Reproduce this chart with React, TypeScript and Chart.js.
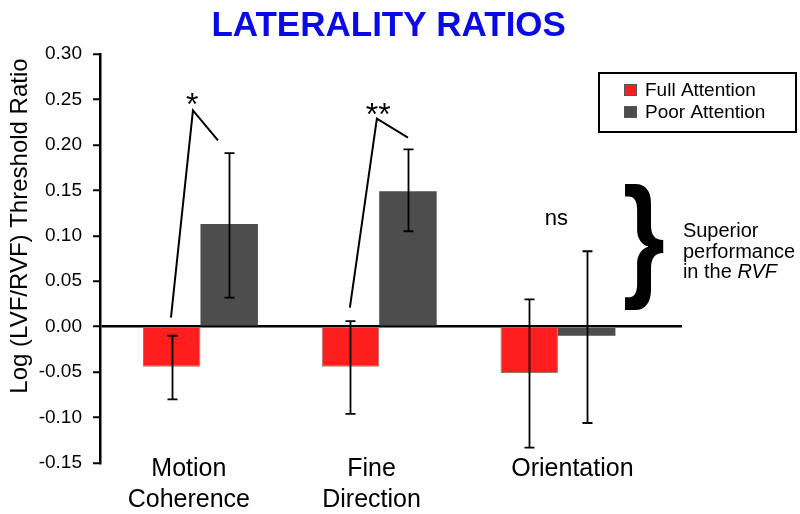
import React, { useEffect, useRef } from 'react';
import { Chart, registerables } from 'chart.js';

Chart.register(...registerables);

// ---------- data ----------
const categories: string[][] = [['Motion', 'Coherence'], ['Fine', 'Direction'], ['Orientation']];
const seriesNames = ['Full Attention', 'Poor Attention'];
const fullAttention = [-0.044, -0.044, -0.051];
const poorAttention = [0.113, 0.149, -0.01];
const fullErrLow = [-0.08, -0.096, -0.133];
const fullErrHigh = [-0.01, 0.006, 0.03];
const poorErrLow = [0.032, 0.105, -0.106];
const poorErrHigh = [0.191, 0.195, 0.083];
const yMin = -0.15;
const yMax = 0.3;
const yStep = 0.05;
const significanceMarks = ['*', '**', 'ns'];
const titleText = 'LATERALITY RATIOS';
const yTitleText = 'Log (LVF/RVF) Threshold Ratio';
const noteLines = ['Superior', 'performance', 'in the '];
const noteItalic = 'RVF';

// ---------- layout / style (data coordinates: category units, y values) ----------
const FONT = "'Liberation Sans', Arial, Helvetica, sans-serif";
const RED = '#ff1e1e';
const GRAY = '#4d4d4d';
const X_MIN = -0.562;
const X_MAX = 2.694;
const LABEL_SHIFT = [-0.065, -0.043, 0.081];
const SIG_LINES = [
  [[-0.165, 0.01], [-0.042, 0.238], [0.098, 0.205]],
  [[0.836, 0.021], [0.987, 0.229], [1.161, 0.208]],
];
const SIG_POS = [[-0.048, 0.25], [0.993, 0.24], [1.994, 0.118]];
const BRACE = { x0: 2.375, x1: 2.593, yTop: 0.158, yBottom: 0.018 };
const NOTE_POS = { x: 2.699, y: [0.1046, 0.0815, 0.0595] };

function inkText(ctx: CanvasRenderingContext2D, text: string, cx: number, cy: number) {
  ctx.textAlign = 'left';
  ctx.textBaseline = 'alphabetic';
  const m = ctx.measureText(text);
  const w = m.actualBoundingBoxLeft + m.actualBoundingBoxRight;
  const h = m.actualBoundingBoxAscent + m.actualBoundingBoxDescent;
  ctx.fillText(text, cx - w / 2 + m.actualBoundingBoxLeft, cy - h / 2 + m.actualBoundingBoxAscent);
}

const decorPlugin = {
  id: 'decor',
  afterDatasetsDraw(chart: any) {
    const ctx: CanvasRenderingContext2D = chart.ctx;
    const ys = chart.scales.y;
    const errs = [
      [fullErrLow, fullErrHigh],
      [poorErrLow, poorErrHigh],
    ];
    ctx.save();
    ctx.strokeStyle = '#000';
    ctx.lineWidth = 1.8;
    errs.forEach((pair, di) => {
      const meta = chart.getDatasetMeta(di);
      meta.data.forEach((bar: any, i: number) => {
        const x = Math.round(bar.x) + 0.5;
        const y1 = ys.getPixelForValue(pair[1][i]);
        const y2 = ys.getPixelForValue(pair[0][i]);
        ctx.beginPath();
        ctx.moveTo(x, y1);
        ctx.lineTo(x, y2);
        ctx.moveTo(x - 5, y1);
        ctx.lineTo(x + 5, y1);
        ctx.moveTo(x - 5, y2);
        ctx.lineTo(x + 5, y2);
        ctx.stroke();
      });
    });
    ctx.restore();
  },
  afterDraw(chart: any) {
    const ctx: CanvasRenderingContext2D = chart.ctx;
    const xs = chart.scales.x;
    const ys = chart.scales.y;
    const px = (v: number) => xs.getPixelForValue(v);
    const py = (v: number) => ys.getPixelForValue(v);
    ctx.save();

    // title
    ctx.fillStyle = '#0a0ae6';
    ctx.font = `bold 35px ${FONT}`;
    inkText(ctx, titleText, 389, 24);

    // y-axis title
    ctx.fillStyle = '#000';
    ctx.font = `24px ${FONT}`;
    ctx.save();
    ctx.translate(20, 226);
    ctx.rotate(-Math.PI / 2);
    ctx.textAlign = 'center';
    ctx.textBaseline = 'middle';
    ctx.fillText(yTitleText, 0, 0);
    ctx.restore();

    // category labels
    ctx.font = `25px ${FONT}`;
    ctx.textAlign = 'center';
    ctx.textBaseline = 'middle';
    categories.forEach((lines, i) => {
      const x = px(i + LABEL_SHIFT[i]);
      lines.forEach((t, k) => ctx.fillText(t, x, 469 + k * 31));
    });

    // significance lines
    ctx.strokeStyle = '#000';
    ctx.lineWidth = 2;
    ctx.lineJoin = 'miter';
    SIG_LINES.forEach((pts) => {
      ctx.beginPath();
      pts.forEach((p, k) => {
        const X = px(p[0]);
        const Y = py(p[1]);
        if (k === 0) ctx.moveTo(X, Y);
        else ctx.lineTo(X, Y);
      });
      ctx.stroke();
    });
    significanceMarks.forEach((m, i) => {
      ctx.font = m === 'ns' ? `22px ${FONT}` : `32px ${FONT}`;
      inkText(ctx, m, px(SIG_POS[i][0]), py(SIG_POS[i][1]));
    });

    // brace
    {
      const x0 = px(BRACE.x0);
      const x1 = px(BRACE.x1);
      const yt = py(BRACE.yTop);
      const yb = py(BRACE.yBottom);
      ctx.font = `bold 100px ${FONT}`;
      ctx.textAlign = 'left';
      ctx.textBaseline = 'alphabetic';
      const m = ctx.measureText('}');
      const w = m.actualBoundingBoxLeft + m.actualBoundingBoxRight;
      const h = m.actualBoundingBoxAscent + m.actualBoundingBoxDescent;
      ctx.save();
      ctx.translate(x0, yt);
      ctx.scale((x1 - x0) / w, (yb - yt) / h);
      ctx.fillText('}', m.actualBoundingBoxLeft, m.actualBoundingBoxAscent);
      ctx.restore();
    }

    // note text
    ctx.font = `20px ${FONT}`;
    ctx.textAlign = 'left';
    ctx.textBaseline = 'middle';
    const nx = px(NOTE_POS.x);
    noteLines.forEach((t, k) => ctx.fillText(t, nx, py(NOTE_POS.y[k])));
    const wIn = ctx.measureText(noteLines[2]).width;
    ctx.font = `italic 20px ${FONT}`;
    ctx.fillText(noteItalic, nx + wIn, py(NOTE_POS.y[2]));

    // legend
    ctx.lineWidth = 2;
    ctx.strokeStyle = '#000';
    ctx.strokeRect(599, 73, 197, 59);
    const colors = [RED, GRAY];
    ctx.font = `19px ${FONT}`;
    seriesNames.forEach((n, k) => {
      const cy = 90 + k * 22;
      ctx.fillStyle = colors[k];
      ctx.fillRect(624, cy - 6, 13, 12);
      ctx.lineWidth = 1;
      ctx.strokeStyle = '#555';
      ctx.strokeRect(624.5, cy - 5.5, 12, 11);
      ctx.fillStyle = '#000';
      ctx.textAlign = 'left';
      ctx.textBaseline = 'middle';
      ctx.fillText(n, 645, cy + 1);
    });

    ctx.restore();
  },
};

export default function App() {
  const ref = useRef<HTMLCanvasElement>(null);
  useEffect(() => {
    if (!ref.current) return;
    const toPts = (arr: number[]) => arr.map((v, i) => ({ x: i, y: v }));
    const chart = new Chart(ref.current, {
      type: 'bar',
      data: {
        datasets: [
          {
            label: seriesNames[0],
            data: toPts(fullAttention) as any,
            backgroundColor: RED,
            borderColor: 'rgba(90,0,0,0.55)',
            borderWidth: 1,
            categoryPercentage: 0.643,
            barPercentage: 1,
          },
          {
            label: seriesNames[1],
            data: toPts(poorAttention) as any,
            backgroundColor: GRAY,
            borderWidth: 0,
            categoryPercentage: 0.643,
            barPercentage: 1,
          },
        ],
      },
      options: {
        responsive: false,
        animation: false,
        devicePixelRatio: 1,
        layout: { padding: { top: 54, bottom: 51, left: 0, right: 118 } },
        plugins: { legend: { display: false }, tooltip: { enabled: false }, title: { display: false } },
        scales: {
          x: {
            type: 'linear',
            display: false,
            offset: false,
            grace: 0,
            min: X_MIN,
            max: X_MAX,
            afterBuildTicks: (s: any) => {
              s.ticks = categories.map((_, i) => ({ value: i }));
            },
          },
          y: {
            min: yMin,
            max: yMax,
            z: 1,
            afterFit: (s: any) => {
              s.width = 100;
            },
            ticks: {
              stepSize: yStep,
              color: '#000',
              padding: 11,
              font: { family: FONT, size: 19 },
              callback: (v: any) => Number(v).toFixed(2),
            },
            grid: {
              drawOnChartArea: true,
              color: (c: any) => (c.tick && Math.abs(c.tick.value) < 1e-9 ? '#000' : 'rgba(0,0,0,0)'),
              lineWidth: 2.5,
              tickColor: '#000',
              tickLength: 7,
              tickWidth: 2,
            },
            border: { display: true, color: '#000', width: 2.5 },
          },
        },
      },
      plugins: [decorPlugin],
    } as any);
    return () => chart.destroy();
  }, []);
  return (
    <div style={{ position: 'fixed', left: 0, top: 0, width: 800, height: 514, background: '#fff', overflow: 'hidden' }}>
      <canvas ref={ref} width={800} height={514} style={{ display: 'block' }} />
    </div>
  );
}
